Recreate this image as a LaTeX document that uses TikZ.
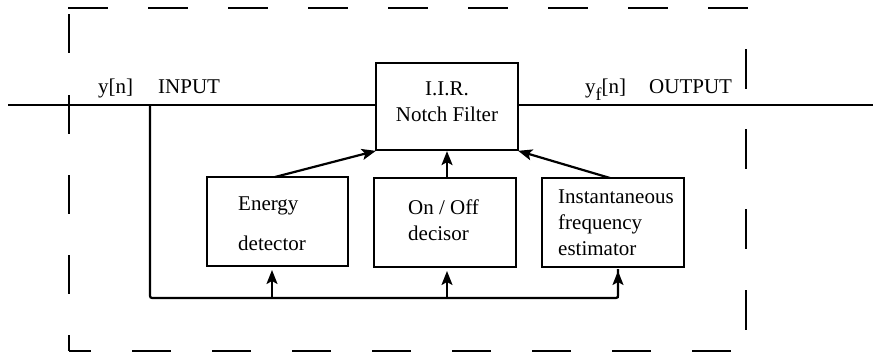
\documentclass[tikz,border=0pt]{standalone}
\usepackage{fontspec}
\setmainfont{Liberation Serif}
\usetikzlibrary{arrows.meta}
\begin{document}
\begin{tikzpicture}[x=1pt,y=-1pt,
  font=\fontsize{21}{26}\selectfont,
  wire/.style={line width=2.2pt},
  frame/.style={line width=1.8pt},
  block/.style={draw,line width=2.2pt,rectangle,inner sep=0pt},
  lbl/.style={inner sep=0pt,anchor=base west},
  clbl/.style={inner sep=0pt,anchor=base},
  feed/.style={wire,-{Stealth[length=14pt,width=11pt,inset=3pt]}}]
\useasboundingbox (0,0) rectangle (873,356);

% dashed outer frame, drawn segment by segment
\foreach \a in {68,148,...,708} \draw[frame] (\a,8) -- (\a+40,8);
\draw[frame] (69,351) -- (91,351);
\foreach \a in {132,212,...,692} \draw[frame] (\a,351) -- (\a+39,351);
\foreach \b in {14,95,175,255} \draw[frame] (69,\b) -- (69,\b+39);
\draw[frame] (69,335) -- (69,351);
\foreach \b in {49,129,209,290} \draw[frame] (746,\b) -- (746,\b+40);

% blocks
\node[block,minimum width=142pt,minimum height=87pt] (iir) at (447,106.5) {};
\node[block,minimum width=141pt,minimum height=89pt] (energy) at (277.5,221.5) {};
\node[block,minimum width=142pt,minimum height=89pt] (onoff) at (445,222.5) {};
\node[block,minimum width=142pt,minimum height=89pt] (ife) at (613,222.5) {};

% block texts
\node[clbl] (iirA) at (447,95.5) {I.I.R.};
\node[clbl] (iirB) at (447,121.5) {Notch Filter};
\node[lbl] (enA) at (238,210) {Energy};
\node[lbl] (enB) at (238,250) {detector};
\node[lbl] (ooA) at (408,214) {On / Off};
\node[lbl] (ooB) at (408,240) {decisor};
\node[lbl] (ifA) at (558,203) {Instantaneous};
\node[lbl] (ifB) at (558,229) {frequency};
\node[lbl] (ifC) at (558,255) {estimator};

% signal labels
\node[lbl] (yin) at (98,93) {y[n]};
\node[lbl] (inp) at (158,93) {INPUT};
\node[lbl] (yout) at (585,93) {y\raisebox{-7pt}{\fontsize{18}{18}\selectfont f}[n]};
\node[lbl] (outp) at (649,93) {OUTPUT};

% signal path
\coordinate (src) at (8,105);
\coordinate (snk) at (873,105);
\coordinate (tap) at (150,105);
\coordinate (tapB) at (150,298);
\coordinate (busR) at (618,298);
\draw[wire] (src) -- (iir.west |- src);
\draw[wire] (iir.east |- snk) -- (snk);
\draw[wire,rounded corners=2pt] (tap) -- (tapB) -- (busR) -- ([yshift=-1pt]busR |- ife.south);

% feeds from the bus into the three blocks
\draw[feed] (272,298) -- (272,270);
\draw[feed] (447,298) -- (447,271);
\draw[feed] (618,298) -- (618,271);

% control paths into the filter
\draw[feed,shorten >=-1pt] (275,177) -- (iir.south west);
\draw[feed] (447,178) -- (iir.south);
\draw[feed,shorten >=-1pt] (610,178) -- (iir.south east);
\end{tikzpicture}
\end{document}
